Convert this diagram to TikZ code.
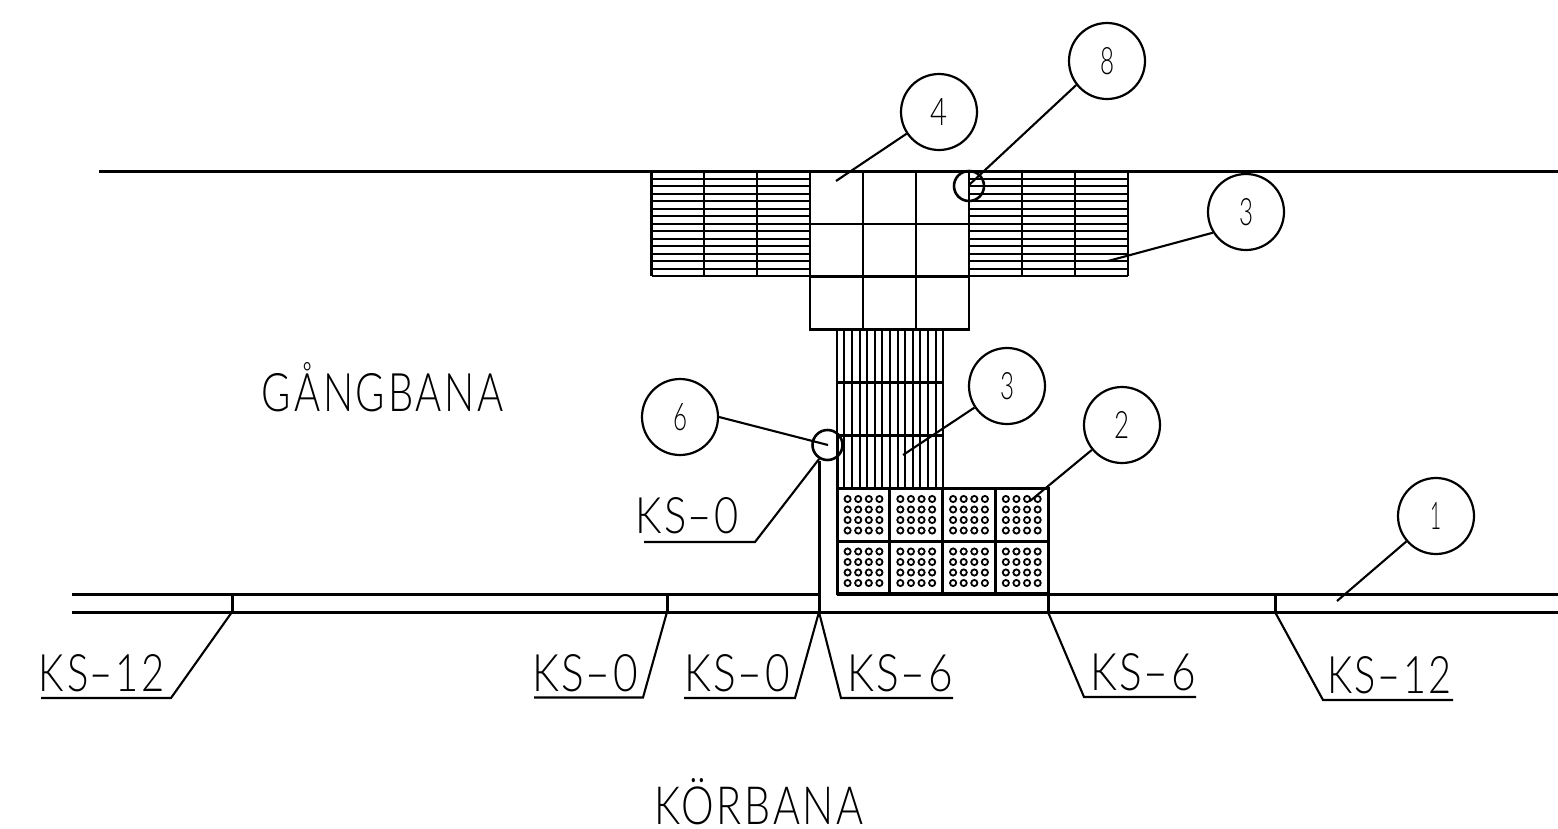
\documentclass[tikz,border=0pt]{standalone}
\usepackage{graphicx}
\usepackage{fontspec}
\setmainfont[UprightFont=* Light,LetterSpace=7]{Lato}
\newfontfamily\digitfont[UprightFont=* Light]{Lato}
\tikzset{
  x=1pt,y=-1pt,
  heavy/.style={line width=3pt,line cap=butt},
  thick grid/.style={line width=3pt},
  grid/.style={line width=2.1pt},
  hatch/.style={line width=2pt},
  leader/.style={line width=2.1pt},
  bubble/.style={circle,draw,line width=2.2pt,minimum size=76pt,inner sep=0pt},
  spot/.style={circle,draw,line width=2.6pt,minimum size=30pt,inner sep=0pt},
  txt/.style={inner sep=0pt,anchor=center},
  dot/.style={line width=1.8pt}
}
\newcommand{\fit}[3]{\resizebox{#1pt}{#2pt}{\fontsize{40}{40}\selectfont #3}}
\newcommand{\dig}[2]{\resizebox{#1pt}{27pt}{\digitfont\fontsize{40}{40}\selectfont #2}}
\newcommand{\dsh}{\scalebox{1.7}[1]{-}\kern2pt}
\begin{document}
\begin{tikzpicture}
\useasboundingbox (0,0) rectangle (1558,828);
% kerb and walkway lines
\draw[heavy] (99,171) -- (1558,171);
\draw[heavy] (72,594) -- (819,594);
\draw[heavy] (837,594) -- (1558,594);
\draw[heavy] (72,612) -- (1558,612);
\foreach \xx in {232,667,1275} \draw[heavy] (\xx,594) -- (\xx,612);
\draw[thick grid] (819,461) -- (819,612);
\draw[thick grid] (1048,594) -- (1048,612);
% horizontal hatch blocks
\foreach \k in {0,...,14} {
  \pgfmathsetmacro\yy{171+7.5*\k}
  \draw[hatch] (651.5,\yy) -- (810,\yy);
  \draw[hatch] (969,\yy) -- (1128,\yy);
}
\foreach \xx in {651.5,704,757,1022,1075,1128} \draw[grid] (\xx,171) -- (\xx,276);
% centre plate
\draw[grid] (810,171) rectangle (969,329.5);
\foreach \xx in {863,916} \draw[grid] (\xx,171) -- (\xx,329.5);
\foreach \yy in {224,276.5} \draw[grid] (810,\yy) -- (969,\yy);
% vertical hatch block
\foreach \k in {0,...,14} {
  \pgfmathsetmacro\xx{836.7+7.6*\k}
  \draw[hatch] (\xx,329.5) -- (\xx,489);
}
\foreach \yy in {382.5,435.5} \draw[grid] (836.7,\yy) -- (943,\yy);
\draw[thick grid] (837,435.5) -- (837,489);
% warning plates with dots
\foreach \i in {0,...,3} \foreach \j in {0,1} {
  \pgfmathsetmacro\cx{837+52.75*\i}
  \pgfmathsetmacro\cy{488.5+52.5*\j}
  \draw[thick grid] (\cx,\cy) rectangle ++(52.75,52.5);
  \foreach \a in {1,...,4} \foreach \b in {1,...,4}
    \draw[dot] (\cx+10.6*\a,\cy+10.5*\b) circle (3.1);
}
% bubbles
\node[bubble] (n4) at (939,112) {\dig{17}{4}};
\node[bubble] (n8) at (1107,61) {\dig{14}{8}};
\node[bubble] (n3a) at (1246,212) {\dig{14}{3}};
\node[bubble] (n3b) at (1007,386) {\dig{14}{3}};
\node[bubble] (n2) at (1122,425) {\dig{15}{2}};
\node[bubble] (n6) at (680,417) {\dig{14}{6}};
\node[bubble] (n1) at (1436,516) {\dig{11}{1}};
\node[spot] (s8) at (969,186) {};
\node[spot] (s6) at (827.5,445) {};
% leader ends
\coordinate (e4) at (836,181);
\coordinate (e8) at (969,185);
\coordinate (e3a) at (1108,261);
\coordinate (e3b) at (903,455);
\coordinate (e2) at (1030,501);
\coordinate (e6) at (828,445);
\coordinate (e1) at (1337,601);
\draw[leader] (n4) -- (e4);
\draw[leader] (n8.218) -- (e8);
\draw[leader] (n3a.212) -- (e3a);
\draw[leader] (n3b) -- (e3b);
\draw[leader] (n2) -- (e2);
\draw[leader] (n6.0) -- (e6);
\draw[leader] (n1) -- (e1);
% labels
\node[txt] (g) at (383,387.5) {\fit{242}{49}{GÅNGBANA}};
\node[txt] (k) at (759,802) {\fit{210}{46}{KÖRBANA}};
\node[txt] (l0) at (687,516) {\fit{104}{36}{KS\dsh 0}};
\node[txt] (l1) at (102,673.5) {\fit{126}{37}{KS\dsh 12}};
\node[txt] (l2) at (585,673.5) {\fit{106}{37}{KS\dsh 0}};
\node[txt] (l3) at (737,673.5) {\fit{106}{37}{KS\dsh 0}};
\node[txt] (l4) at (900,673.5) {\fit{106}{37}{KS\dsh 6}};
\node[txt] (l5) at (1143,672.5) {\fit{106}{37}{KS\dsh 6}};
\node[txt] (l6) at (1389.5,675) {\fit{125}{37}{KS\dsh 12}};
% label leaders
\coordinate (a0s) at (644,542); \coordinate (a0k) at (755,542);
\draw[leader] (a0s) -- (a0k) -- (s6.239);
\coordinate (a1s) at (41,698); \coordinate (a1k) at (171,698); \coordinate (a1e) at (232,612);
\draw[leader] (a1s) -- (a1k) -- (a1e);
\coordinate (a2s) at (534,697.5); \coordinate (a2k) at (643,697.5); \coordinate (a2e) at (667,612);
\draw[leader] (a2s) -- (a2k) -- (a2e);
\coordinate (a3s) at (684,698); \coordinate (a3k) at (795,698); \coordinate (a3e) at (819,612);
\draw[leader] (a3s) -- (a3k) -- (a3e);
\coordinate (a4s) at (953,698); \coordinate (a4k) at (841,698);
\draw[leader] (a4s) -- (a4k) -- (a3e);
\coordinate (a5s) at (1196,697); \coordinate (a5k) at (1084,697); \coordinate (a5e) at (1048,612);
\draw[leader] (a5s) -- (a5k) -- (a5e);
\coordinate (a6s) at (1453,700); \coordinate (a6k) at (1323,700); \coordinate (a6e) at (1275,612);
\draw[leader] (a6s) -- (a6k) -- (a6e);
\end{tikzpicture}
\end{document}
